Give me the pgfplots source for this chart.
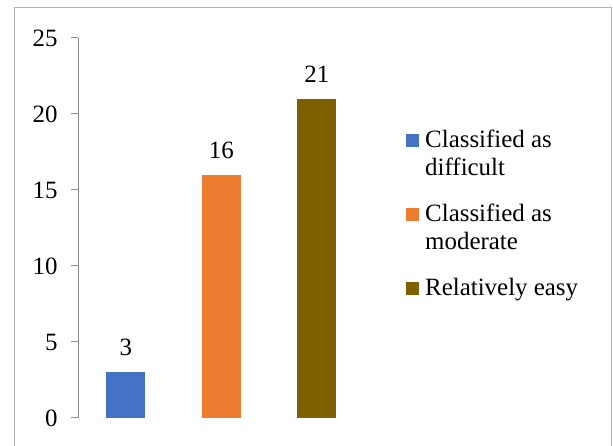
\documentclass[border=0pt]{standalone}
\usepackage{pgfplots}
\pgfplotsset{compat=1.18}
\usepackage{fontspec}
\setmainfont{Liberation Serif}
\definecolor{cblue}{HTML}{4472C4}
\definecolor{corange}{HTML}{ED7D31}
\definecolor{cbrown}{HTML}{7F6000}
\newcommand{\lt}[1]{\begin{tabular}[t]{@{}l@{}}#1\end{tabular}}
\begin{document}
\begin{tikzpicture}
\useasboundingbox (0,0) rectangle (613bp,446bp);
\draw[color=black!30, line width=1bp] (14bp,438bp) rectangle (611bp,-20bp);
\begin{axis}[
  at={(78bp,28bp)}, anchor=south west,
  scale only axis, width=286.5bp, height=380bp,
  xmin=-0.5, xmax=2.5, ymin=0, ymax=25,
  ytick={0,5,10,15,20,25}, xtick=\empty,
  axis x line=none, axis y line*=left,
  axis line style={color=black!45, line width=1bp},
  tick style={color=black!45, line width=1bp},
  major tick length=7bp, tick align=outside,
  /pgf/number format/assume math mode=true,
  ticklabel style={font=\fontsize{25}{28}\selectfont, text=black},
  yticklabel style={xshift=-10bp},
  ybar, bar width=39bp, bar shift=0pt,
  clip=false,
  nodes near coords,
  every node near coord/.append style={font=\fontsize{25}{28}\selectfont, text=black, anchor=south, yshift=13bp},
  legend image code/.code={\draw[#1, draw=none] (0bp,0bp) rectangle (13bp,13bp);},
  legend style={at={(1.145,0.770)}, anchor=north west, draw=none, fill=none, inner sep=0pt,
    font=\fontsize{25}{28}\selectfont, row sep=49bp, column sep=4bp,
    cells={anchor=base west}},
]
\addplot[fill=cblue, draw=none] coordinates {(0,3)};
\addlegendentry{\lt{Classified as\\difficult}}
\addplot[fill=corange, draw=none] coordinates {(1,16)};
\addlegendentry{\lt{Classified as\\moderate}}
\addplot[fill=cbrown, draw=none] coordinates {(2,21)};
\addlegendentry{\lt{Relatively easy}}
\end{axis}
\end{tikzpicture}
\end{document}
